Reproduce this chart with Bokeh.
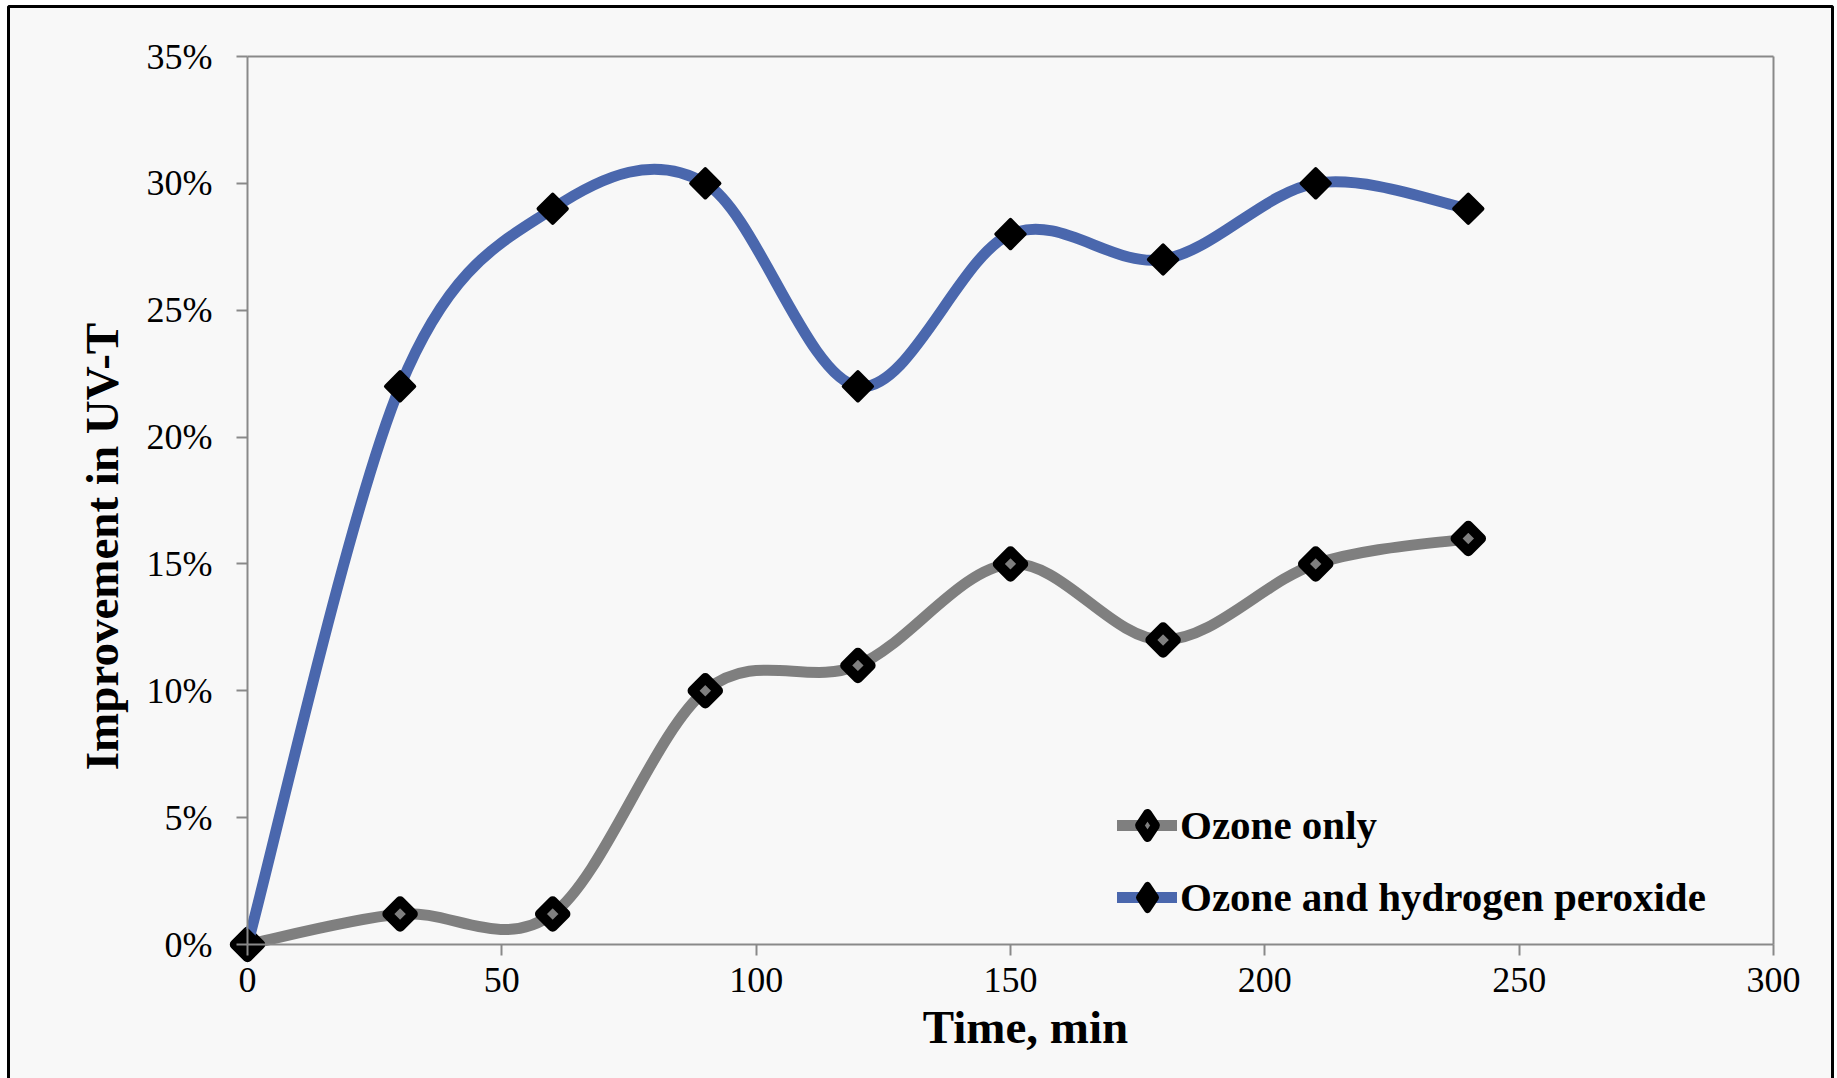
import numpy as np
from bokeh.plotting import figure
from bokeh.models import (ColumnDataSource, Range1d, NumeralTickFormatter, FixedTicker,
                          Legend, LegendItem, Label, BoxAnnotation, LinearAxis)
from bokeh.embed import file_html
from bokeh.resources import INLINE

# ---- data ----
time_min = [0, 30, 60, 90, 120, 150, 180, 210, 240]
ozone_only = [0.0, 0.012, 0.012, 0.10, 0.11, 0.15, 0.12, 0.15, 0.16]
ozone_h2o2 = [0.0, 0.22, 0.29, 0.30, 0.22, 0.28, 0.27, 0.30, 0.29]
x_ticks = [0, 50, 100, 150, 200, 250, 300]
y_ticks = [0.0, 0.05, 0.10, 0.15, 0.20, 0.25, 0.30, 0.35]
x_bounds = (0, 300)
y_bounds = (0.0, 0.35)
series_names = ["Ozone only", "Ozone and hydrogen peroxide"]
x_title = "Time, min"
y_title = "Improvement in UV-T"

GREY = "#7f7f7f"
BLUE = "#4a67ad"
BG = "#f8f8f8"
AXIS = "#898989"
FONT = "Liberation Serif"

# ---- layout (pixels) ----
W, H = 1837, 1078
PL, PR, PT, PB = 247, 1773, 56, 944   # plot-area edges on the canvas

xs = (PR - PL) / (x_bounds[1] - x_bounds[0])
ys = (PB - PT) / (y_bounds[1] - y_bounds[0])
x_range = Range1d(x_bounds[0] - PL / xs, x_bounds[0] + (W - PL) / xs)
y_range = Range1d(y_bounds[0] - (H - PB) / ys, y_bounds[0] + PB / ys)


def smooth_source(x, y):
    """Bezier control points for a spreadsheet-style smoothed line."""
    x = np.asarray(x, float)
    y = np.asarray(y, float)
    xp = np.concatenate([[x[0]], x, [x[-1]]])
    yp = np.concatenate([[y[0]], y, [y[-1]]])
    d = dict(x0=[], y0=[], x1=[], y1=[], cx0=[], cy0=[], cx1=[], cy1=[])
    for i in range(len(x) - 1):
        d["x0"].append(xp[i + 1]); d["y0"].append(yp[i + 1])
        d["x1"].append(xp[i + 2]); d["y1"].append(yp[i + 2])
        d["cx0"].append(xp[i + 1] + (xp[i + 2] - xp[i]) / 6)
        d["cy0"].append(yp[i + 1] + (yp[i + 2] - yp[i]) / 6)
        d["cx1"].append(xp[i + 2] - (xp[i + 3] - xp[i + 1]) / 6)
        d["cy1"].append(yp[i + 2] - (yp[i + 3] - yp[i + 1]) / 6)
    return ColumnDataSource(d)


p = figure(width=W, height=H, min_border=0,
           x_range=x_range, y_range=y_range,
           x_axis_location=None, y_axis_location=None,
           output_backend="svg", toolbar_location=None,
           background_fill_color="white", border_fill_color="white")
p.grid.visible = False
p.outline_line_color = None

# outer chart border (bottom edge lies below the visible canvas)
outer = BoxAnnotation(left=8, right=1832, top=6, bottom=H + 30,
                      left_units="canvas", right_units="canvas",
                      top_units="canvas", bottom_units="canvas",
                      fill_color=BG, fill_alpha=1.0, line_color="black",
                      line_alpha=1.0, line_width=3, level="underlay")
p.add_layout(outer)

# plot-area frame lines on top and right
top_ax = LinearAxis(fixed_location=y_bounds[1], bounds=x_bounds)
right_ax = LinearAxis(fixed_location=x_bounds[1], bounds=y_bounds)
p.add_layout(top_ax, "above")
p.add_layout(right_ax, "right")
for ax in (top_ax, right_ax):
    ax.axis_line_color = AXIS
    ax.axis_line_width = 2
    ax.major_tick_line_color = None
    ax.minor_tick_line_color = None
    ax.major_label_text_font_size = "0px"
    ax.major_label_text_alpha = 0

xa = LinearAxis(fixed_location=y_bounds[0], bounds=x_bounds,
                ticker=FixedTicker(ticks=x_ticks))
ya = LinearAxis(fixed_location=x_bounds[0], bounds=y_bounds,
                ticker=FixedTicker(ticks=y_ticks),
                formatter=NumeralTickFormatter(format="0%"))
p.add_layout(xa, "below")
p.add_layout(ya, "left")
for ax in (xa, ya):
    ax.axis_line_color = AXIS
    ax.axis_line_width = 2
    ax.major_tick_line_color = AXIS
    ax.major_tick_line_width = 2
    ax.major_tick_in = 0
    ax.major_tick_out = 11
    ax.minor_tick_line_color = None
    ax.major_label_text_font = FONT
    ax.major_label_text_font_size = "36px"
    ax.major_label_text_color = "black"
xa.major_label_standoff = 12
ya.major_label_standoff = 24


# ---- series ----
def add_series(yvals, color, inner):
    src = smooth_source(time_min, yvals)
    ln = p.bezier(x0="x0", y0="y0", x1="x1", y1="y1", cx0="cx0", cy0="cy0",
                  cx1="cx1", cy1="cy1", source=src, line_color=color, line_width=11,
                  line_cap="round")
    pts = ColumnDataSource(dict(t=time_min, v=yvals))
    if inner:
        p.scatter("t", "v", source=pts, marker="square", angle=np.pi / 4, size=18,
                  fill_color=color, line_color="black", line_width=10, line_join="round")
        leg = p.scatter("t", "v", source=pts, marker="diamond", size=24,
                        fill_color=color, line_color="black", line_width=9,
                        line_join="round", visible=False)
    else:
        p.scatter("t", "v", source=pts, marker="square", angle=np.pi / 4, size=20,
                  fill_color="black", line_color="black", line_width=4, line_join="round")
        leg = p.scatter("t", "v", source=pts, marker="diamond", size=24,
                        fill_color="black", line_color="black", line_width=7,
                        line_join="round", visible=False)
    return [ln, leg]


r_grey = add_series(ozone_only, GREY, True)
r_blue = add_series(ozone_h2o2, BLUE, False)

legend = Legend(items=[LegendItem(label=series_names[0], renderers=r_grey),
                       LegendItem(label=series_names[1], renderers=r_blue)],
                location=(1117, H - 927), orientation="vertical",
                padding=0, margin=0, spacing=12, glyph_width=60, glyph_height=60,
                label_height=60, label_standoff=3,
                border_line_color=None, background_fill_alpha=0,
                inactive_fill_alpha=0,
                label_text_font=FONT, label_text_font_size="41px",
                label_text_font_style="bold", label_text_color="black")
p.add_layout(legend)

p.add_layout(Label(x=1025, y=1026, x_units="canvas", y_units="canvas", text=x_title,
                   text_font=FONT, text_font_size="47px", text_font_style="bold",
                   text_align="center", text_baseline="middle", text_color="black"))
p.add_layout(Label(x=101, y=546, x_units="canvas", y_units="canvas", text=y_title,
                   angle=np.pi / 2, text_font=FONT, text_font_size="47px",
                   text_font_style="bold", text_align="center", text_baseline="middle",
                   text_color="black"))

open("out.html", "w").write(file_html(p, INLINE))
